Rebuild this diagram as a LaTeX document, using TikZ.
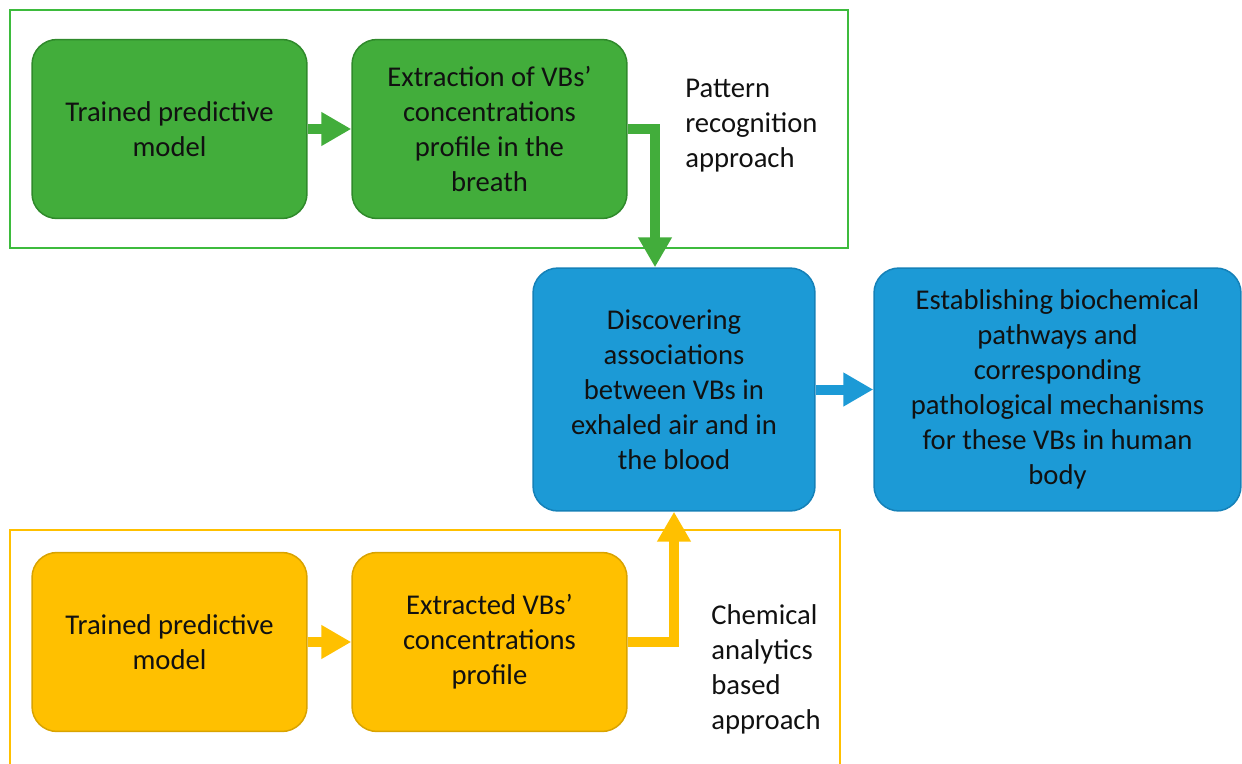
\documentclass[tikz,border=0pt]{standalone}
\usepackage{fontspec}
\setmainfont{Carlito}
\usetikzlibrary{arrows.meta}
\definecolor{gfill}{HTML}{42AD3B}
\definecolor{gdraw}{HTML}{2F8A2B}
\definecolor{gline}{HTML}{3DBB3D}
\definecolor{bfill}{HTML}{1C9AD6}
\definecolor{bdraw}{HTML}{1581B8}
\definecolor{yfill}{HTML}{FFC000}
\definecolor{ydraw}{HTML}{D9A300}
\definecolor{txt}{HTML}{111111}
\tikzset{
  box/.style={rectangle, rounded corners=0.5cm, line width=0.03cm, align=center, inner sep=0pt,
    text=txt, font=\fontsize{16.3}{19.9}\selectfont},
  gbox/.style={box, fill=gfill, draw=gdraw, minimum width=5.5cm, minimum height=3.58cm},
  ybox/.style={box, fill=yfill, draw=ydraw, minimum width=5.5cm, minimum height=3.58cm},
  bbox/.style={box, fill=bfill, draw=bdraw, minimum height=4.86cm},
  blockarrow/.style={line width=0.2cm, -{Triangle[length=0.6cm, width=0.64cm]}},
  lbl/.style={anchor=west, align=left, inner sep=0pt, text=txt, font=\fontsize{16.3}{19.9}\selectfont}
}
\begin{document}
\begin{tikzpicture}[x=0.02cm, y=-0.02cm]
\useasboundingbox (0,0) rectangle (1242,764);
% outline frames
\draw[gline, line width=0.03cm] (10,10) rectangle (848,248);
\draw[yfill, line width=0.03cm] (10,764) -- (10,530) -- (840,530) -- (840,764);
% nodes
\node[gbox] (g1) at (169.5,129) {Trained predictive\\model};
\node[gbox] (g2) at (489.5,129) {Extraction of VBs’\\concentrations\\profile in the\\breath};
\node[bbox, minimum width=5.64cm] (b1) at (674,389.5) {Discovering\\associations\\between VBs in\\exhaled air and in\\the blood};
\node[bbox, minimum width=7.34cm] (b2) at (1057.5,389.5) {Establishing biochemical\\pathways and\\corresponding\\pathological mechanisms\\for these VBs in human\\body};
\node[ybox] (y1) at (169.5,642) {Trained predictive\\model};
\node[ybox] (y2) at (489.5,642) {Extracted VBs’\\concentrations\\profile};
% labels
\node[lbl] (pl) at (685,126) {Pattern\\recognition\\approach};
\node[lbl] (cl) at (711,669) {Chemical\\analytics\\based\\approach};
% arrows
\draw[blockarrow, gfill] (g1) -- (g2);
\draw[blockarrow, gfill] (g2.east) -| ([xshift=-0.38cm]b1.north);
\draw[blockarrow, bfill] (b1) -- (b2);
\draw[blockarrow, yfill] (y1) -- (y2);
\draw[blockarrow, yfill] (y2.east) -| (b1.south);
\end{tikzpicture}
\end{document}
